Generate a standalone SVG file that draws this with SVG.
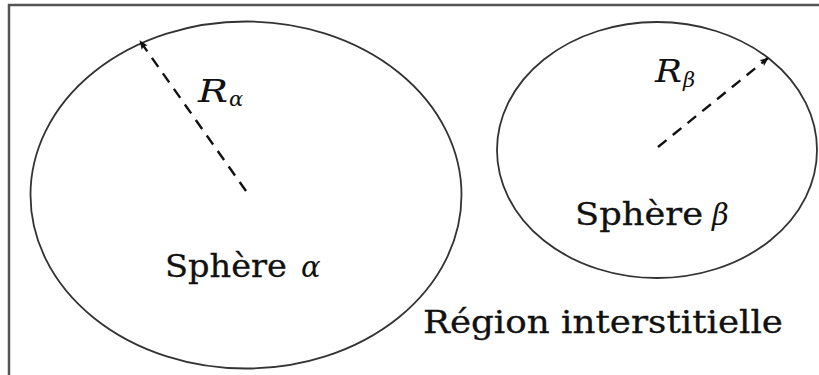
<svg xmlns="http://www.w3.org/2000/svg" width="819" height="375" viewBox="0 0 819 375">
  <defs>
    <marker id="arr" viewBox="0 0 10 10" refX="9" refY="5" markerWidth="10" markerHeight="9" markerUnits="userSpaceOnUse" orient="auto">
      <path d="M0,1 L10,5 L0,9 L2,5 Z" fill="#111"/>
    </marker>
    <style>
      .frame { fill: none; stroke: #555; stroke-width: 2.5; }
      .sphere { fill: none; stroke: #333; stroke-width: 1.8; }
      .radius { fill: none; stroke: #111; stroke-width: 2.4; stroke-dasharray: 11 8; }
      .lbl { font-family: "DejaVu Serif", "Liberation Serif", serif; font-size: 31px; fill: #111; stroke: #111; stroke-width: 0.3; }
      .math { font-family: "DejaVu Serif", "Liberation Serif", serif; font-style: italic; fill: #111; }
    </style>
  </defs>
  <rect width="819" height="375" fill="#fff"/>
  <rect class="frame" x="9" y="5" width="830" height="390"/>

  <g id="sphere-alpha">
    <ellipse class="sphere" cx="246" cy="195" rx="215.5" ry="173.5"/>
    <text class="lbl" x="165" y="277" textLength="122" lengthAdjust="spacingAndGlyphs">Sphère</text>
    <text class="math" x="301" y="277" font-size="29">α</text>
  </g>

  <g id="sphere-beta">
    <ellipse class="sphere" cx="657" cy="150" rx="160" ry="128"/>
    <text class="lbl" x="575" y="225" textLength="128" lengthAdjust="spacingAndGlyphs">Sphère</text>
    <text class="math" x="712" y="225" font-size="29">β</text>
  </g>

  <g id="region">
    <text class="lbl" x="423" y="333" textLength="360" lengthAdjust="spacingAndGlyphs">Région interstitielle</text>
  </g>

  <g id="connectors">
    <line class="radius" x1="246" y1="191" x2="140" y2="41" marker-end="url(#arr)"/>
    <line class="radius" x1="658" y1="147" x2="768" y2="58" marker-end="url(#arr)"/>
  </g>

  <g id="labels">
    <text class="math" x="198" y="102" font-size="31" textLength="30" lengthAdjust="spacingAndGlyphs">R</text>
    <text class="math" x="229" y="106" font-size="21">α</text>
    <text class="math" x="655" y="82" font-size="31" textLength="27" lengthAdjust="spacingAndGlyphs">R</text>
    <text class="math" x="683" y="87" font-size="21">β</text>
  </g>
</svg>
